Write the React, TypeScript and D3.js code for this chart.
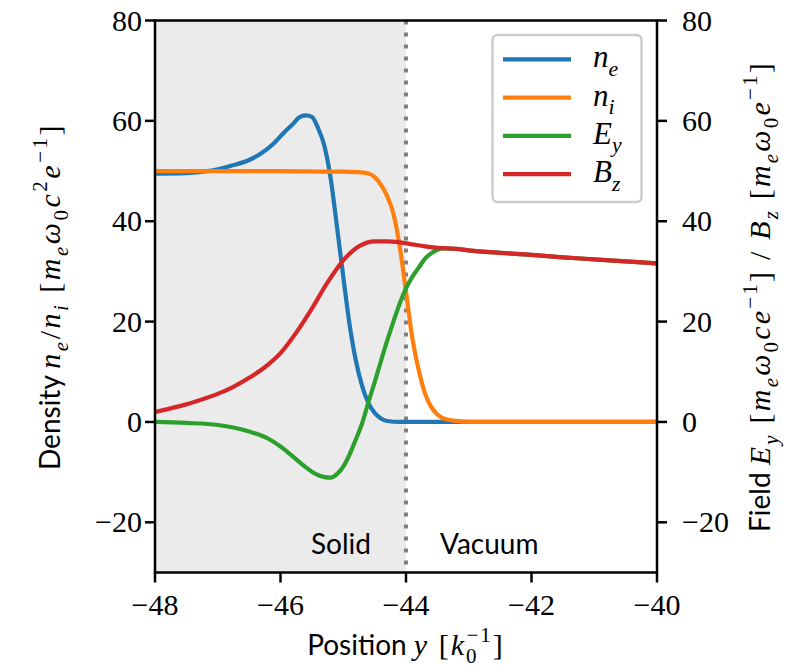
import React from "react";
import * as d3 from "d3";

// Electron density n_e
const X_NE = [-48, -47.5, -47.1, -46.8, -46.5, -46.3, -46.1, -45.95, -45.8, -45.7, -45.6, -45.5, -45.4, -45.3, -45.2, -45.1, -45.0, -44.9, -44.8, -44.7, -44.6, -44.5, -44.4, -44.3, -44.1, -43.5, -40];
const NE = [49.5, 49.6, 50.1, 51.0, 52.2, 53.6, 55.6, 57.6, 59.4, 60.7, 61.1, 60.8, 58.5, 55.0, 48.5, 38.9, 29.0, 19.5, 12.3, 7.2, 3.8, 1.8, 0.7, 0.2, 0.0, 0.0, 0.0];

// Ion density n_i
const X_NI = [-48, -47, -46, -45.2, -45.0, -44.8, -44.6, -44.5, -44.4, -44.3, -44.2, -44.1, -44.0, -43.9, -43.8, -43.7, -43.6, -43.5, -43.4, -43.2, -43.0, -40];
const NI = [50.0, 50.0, 50.0, 49.9, 49.9, 49.8, 49.5, 48.8, 47.3, 45.0, 41.5, 35.0, 26.0, 16.8, 10.5, 5.8, 3.0, 1.5, 0.7, 0.2, 0.0, 0.0];

// Electric field E_y
const X_EY = [-48, -47.5, -47, -46.5, -46.2, -46.0, -45.8, -45.6, -45.45, -45.3, -45.2, -45.1, -45.0, -44.9, -44.8, -44.7, -44.6, -44.5, -44.4, -44.3, -44.2, -44.1, -44.0, -43.9, -43.8, -43.7, -43.6, -43.5, -43.4, -43.2, -43.0, -42.5, -42, -41.5, -41, -40.5, -40];
const EY = [0.0, -0.2, -0.6, -1.9, -3.3, -4.9, -6.9, -9.0, -10.3, -11.0, -11.1, -10.4, -8.9, -6.5, -3.5, -0.3, 3.9, 7.9, 12.1, 16.2, 20.0, 23.6, 26.6, 28.9, 30.7, 32.5, 33.6, 34.3, 34.6, 34.5, 34.2, 33.7, 33.3, 32.8, 32.4, 32.0, 31.6];

// Magnetic field B_z
const X_BZ = [-48, -47.75, -47.5, -47.25, -47, -46.75, -46.5, -46.25, -46.0, -45.75, -45.5, -45.25, -45.0, -44.75, -44.5, -44.3, -44.1, -43.9, -43.7, -43.5, -43.2, -43.0, -42.5, -42, -41.5, -41, -40.5, -40];
const BZ = [2.0, 2.7, 3.5, 4.5, 5.6, 7.0, 8.8, 10.9, 13.7, 17.8, 22.6, 27.8, 32.2, 35.0, 36.0, 36.0, 35.8, 35.4, 35.0, 34.7, 34.5, 34.2, 33.7, 33.3, 32.8, 32.4, 32.0, 31.6];

const X_TICKS = [-48, -46, -44, -42, -40];
const Y_TICKS = [-20, 0, 20, 40, 60, 80];
const SURFACE = -44;

const SERIES = [
  { key: "ne", x: X_NE, y: NE, color: "#1f77b4", label: [["n", "it", 0], ["e", "it", 1]] },
  { key: "ni", x: X_NI, y: NI, color: "#ff7f0e", label: [["n", "it", 0], ["i", "it", 1]] },
  { key: "ey", x: X_EY, y: EY, color: "#2ca02c", label: [["E", "it", 0], ["y", "it", 1]] },
  { key: "bz", x: X_BZ, y: BZ, color: "#d62728", label: [["B", "it", 0], ["z", "it", 1]] },
];

type Seg = [string, string, number, number?];

const SANS = "Lato, 'Open Sans', sans-serif";
const SERIF = "'Liberation Serif', 'DejaVu Serif', serif";

function MathText({ segs, size, sfSize, spacing = 0 }: { segs: Seg[]; size: number; sfSize?: number; spacing?: number }) {
  let cur = 0;
  return (
    <>
      {segs.map((s, i) => {
        const [t, kind, level, dx] = s;
        const target = level === 1 ? size * 0.27 : level === -1 ? -size * 0.42 : 0;
        const dy = target - cur;
        cur = target;
        const base = kind === "sf" ? sfSize ?? size : size;
        const fs = level === 0 ? base : base * 0.7;
        return (
          <tspan
            key={i}
            dy={dy}
            dx={dx ?? 0}
            fontSize={fs}
            style={{
              fontFamily: kind === "sf" ? SANS : SERIF,
              fontStyle: kind === "it" ? "italic" : "normal",
              letterSpacing: kind === "sf" ? 0 : spacing,
            }}
          >
            {t}
          </tspan>
        );
      })}
    </>
  );
}

const LEFT_LABEL: Seg[] = [
  ["Density ", "sf", 0], ["n", "it", 0], ["e", "it", 1], ["/", "rm", 0], ["n", "it", 0], ["i", "it", 1],
  [" [", "rm", 0], ["m", "it", 0], ["e", "it", 1], ["ω", "it", 0], ["0", "rm", 1], ["c", "it", 0],
  ["2", "rm", -1], ["e", "it", 0], ["−1", "rm", -1], ["]", "rm", 0],
];

const RIGHT_LABEL: Seg[] = [
  ["Field ", "sf", 0], ["E", "it", 0], ["y", "it", 1], [" [", "rm", 0], ["m", "it", 0], ["e", "it", 1],
  ["ω", "it", 0], ["0", "rm", 1], ["ce", "it", 0], ["−1", "rm", -1], ["] / ", "rm", 0],
  ["B", "it", 0], ["z", "it", 1], [" [", "rm", 0], ["m", "it", 0], ["e", "it", 1],
  ["ω", "it", 0], ["0", "rm", 1], ["e", "it", 0], ["−1", "rm", -1], ["]", "rm", 0],
];

const BOTTOM_LABEL: Seg[] = [
  ["Position ", "sf", 0], ["y", "it", 0], [" [", "rm", 0], ["k", "it", 0], ["0", "rm", 1],
  ["−1", "rm", -1, -12], ["]", "rm", 0],
];

export default function App() {
  const W = 794;
  const H = 667;
  const left = 155;
  const right = 657;
  const top = 20.5;
  const bottom = 572.5;
  const midY = (top + bottom) / 2;

  const x = d3.scaleLinear().domain([-48, -40]).range([left, right]);
  const y = d3.scaleLinear().domain([-30, 80]).range([bottom, top]);

  const line = (xs: number[], ys: number[]) =>
    d3
      .line<number>()
      .x((_, i) => x(xs[i]))
      .y((v) => y(v))
      .curve(d3.curveMonotoneX)(ys) as string;

  const tickLen = 10;
  const fmt = (v: number) => (v < 0 ? "−" + Math.abs(v) : String(v));

  return (
    <svg width={W} height={H} style={{ position: "absolute", left: 0, top: 0, background: "#fff" }}>
      <defs>
        <clipPath id="plot">
          <rect x={left} y={top} width={right - left} height={bottom - top} />
        </clipPath>
      </defs>

      {/* solid region */}
      <rect x={x(-48)} y={top} width={x(SURFACE) - x(-48)} height={bottom - top} fill="#ebebeb" />

      {/* target surface */}
      <line
        x1={x(SURFACE)}
        x2={x(SURFACE)}
        y1={top}
        y2={bottom}
        stroke="#808080"
        strokeWidth={4}
        strokeDasharray="4 8"
      />

      <g clipPath="url(#plot)">
        {SERIES.map((s) => (
          <path
            key={s.key}
            d={line(s.x, s.y)}
            fill="none"
            stroke={s.color}
            strokeWidth={4.2}
            strokeLinejoin="round"
            strokeLinecap="butt"
          />
        ))}
      </g>

      {/* region labels */}
      <text x={311} y={554} style={{ fontFamily: SANS }} fontSize={28} fill="#000">Solid</text>
      <text x={440} y={554} style={{ fontFamily: SANS }} fontSize={28} fill="#000">Vacuum</text>

      {/* frame */}
      <rect x={left} y={top} width={right - left} height={bottom - top} fill="none" stroke="#000" strokeWidth={2.5} />

      {/* x ticks */}
      {X_TICKS.map((t) => (
        <g key={"x" + t}>
          <line x1={x(t)} x2={x(t)} y1={bottom} y2={bottom + tickLen} stroke="#000" strokeWidth={2.5} />
          <text x={x(t)} y={615} textAnchor="middle" style={{ fontFamily: SERIF }} fontSize={30}>{fmt(t)}</text>
        </g>
      ))}

      {/* left & right y ticks */}
      {Y_TICKS.map((t) => (
        <g key={"y" + t}>
          <line x1={left - tickLen} x2={left} y1={y(t)} y2={y(t)} stroke="#000" strokeWidth={2.5} />
          <text x={142} y={y(t) + 10} textAnchor="end" style={{ fontFamily: SERIF }} fontSize={30}>{fmt(t)}</text>
          <line x1={right} x2={right + tickLen} y1={y(t)} y2={y(t)} stroke="#000" strokeWidth={2.5} />
          <text x={682} y={y(t) + 10} textAnchor="start" style={{ fontFamily: SERIF }} fontSize={30}>{fmt(t)}</text>
        </g>
      ))}

      {/* axis titles */}
      <text x={406} y={655} textAnchor="middle" style={{ whiteSpace: "pre" }}>
        <MathText segs={BOTTOM_LABEL} size={30} sfSize={28} spacing={2} />
      </text>
      <text transform={`translate(60,${midY}) rotate(-90)`} textAnchor="middle" style={{ whiteSpace: "pre" }}>
        <MathText segs={LEFT_LABEL} size={30} sfSize={28} spacing={2.5} />
      </text>
      <text transform={`translate(770,${midY}) rotate(-90)`} textAnchor="middle" style={{ whiteSpace: "pre" }}>
        <MathText segs={RIGHT_LABEL} size={30} sfSize={28} spacing={2.2} />
      </text>

      {/* legend */}
      <g>
        <rect x={492.5} y={35} width={149} height={167} rx={5} fill="#fff" fillOpacity={0.8} stroke="#cccccc" strokeWidth={2.5} />
        {SERIES.map((s, i) => {
          const ly = 59.3 + i * 38.3;
          return (
            <g key={"lg" + s.key}>
              <line x1={503} x2={571} y1={ly} y2={ly} stroke={s.color} strokeWidth={4.2} />
              <text x={593} y={ly + 8} style={{ whiteSpace: "pre" }}>
                <MathText segs={s.label as Seg[]} size={31} />
              </text>
            </g>
          );
        })}
      </g>
    </svg>
  );
}
